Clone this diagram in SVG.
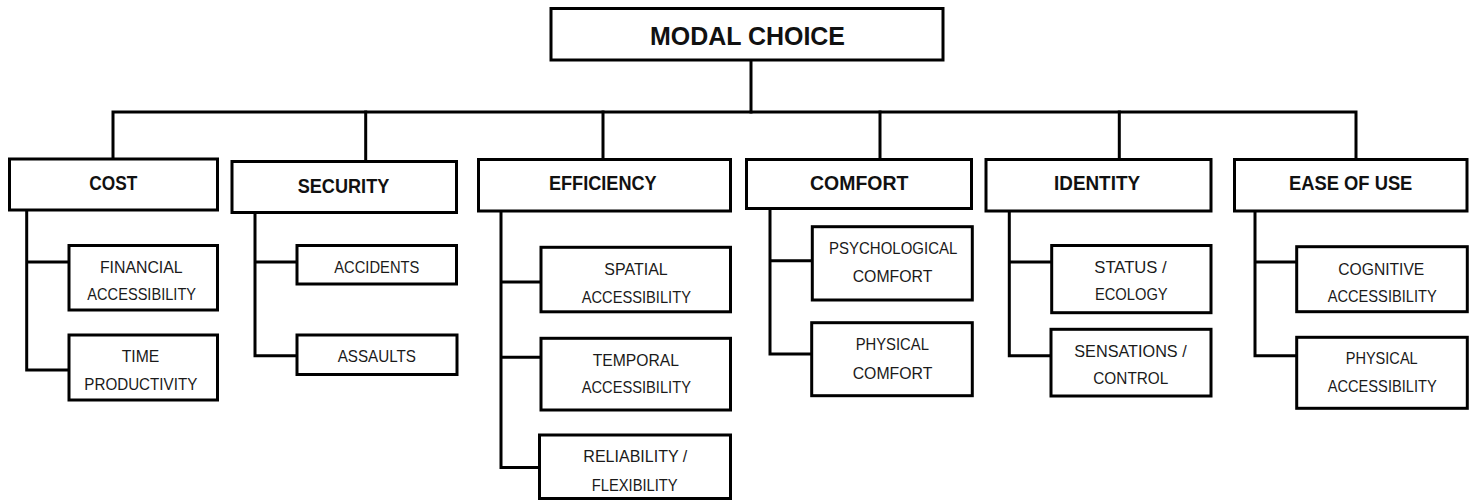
<svg xmlns="http://www.w3.org/2000/svg" width="1474" height="500" viewBox="0 0 1474 500">
<style>
.box{fill:#fff;stroke:#000;stroke-width:3}
.conn{fill:none;stroke:#000;stroke-width:3;stroke-linejoin:miter;stroke-linecap:square}
.h{font-family:"Liberation Sans",Arial,sans-serif;font-weight:bold;font-size:21px;fill:#111;text-anchor:middle}
.root{font-size:25px}
.s{font-family:"Liberation Sans",Arial,sans-serif;font-size:17px;fill:#1a1a1a;text-anchor:middle}
</style>
<rect width="1474" height="500" fill="#fff"/>
<g id="connectors">
<path class="conn" d="M751 60V112"/>
<path class="conn" d="M113 159V112H1356V159"/>
<path class="conn" d="M365.7 112V161.5M603 112V159.5M880 112V159.5M1119.3 112V159.5"/>
<path class="conn" d="M26.7 210V370H69M26.7 262H69"/>
<path class="conn" d="M255 212.5V355.7H297M255 262H297"/>
<path class="conn" d="M501 211V467.5H539.5M501 282H541M501 357.3H541"/>
<path class="conn" d="M770 208.5V354H811.7M770 260.7H812.3"/>
<path class="conn" d="M1009.3 211V355.7H1051M1009.3 262H1051.7"/>
<path class="conn" d="M1255 211V355.7H1296.7M1255 262H1296.7"/>
</g>
<g id="modal-choice"><rect class="box" x="551" y="8.5" width="392" height="51.5"/><text class="h root" x="747.5" y="45" textLength="195" lengthAdjust="spacingAndGlyphs">MODAL CHOICE</text></g>
<g id="cost"><rect class="box" x="9.5" y="159" width="208" height="51"/><text class="h" x="113.3" y="190" textLength="48" lengthAdjust="spacingAndGlyphs">COST</text></g>
<g id="security"><rect class="box" x="232" y="161.5" width="224.5" height="51"/><text class="h" x="343.5" y="193.3" textLength="91.6" lengthAdjust="spacingAndGlyphs">SECURITY</text></g>
<g id="efficiency"><rect class="box" x="478.5" y="159.5" width="252" height="51.5"/><text class="h" x="602.8" y="190" textLength="107.7" lengthAdjust="spacingAndGlyphs">EFFICIENCY</text></g>
<g id="comfort"><rect class="box" x="746.5" y="159.5" width="225" height="49"/><text class="h" x="859.2" y="190" textLength="98.3" lengthAdjust="spacingAndGlyphs">COMFORT</text></g>
<g id="identity"><rect class="box" x="986" y="159.5" width="225" height="51.5"/><text class="h" x="1097" y="190" textLength="86" lengthAdjust="spacingAndGlyphs">IDENTITY</text></g>
<g id="ease-of-use"><rect class="box" x="1234.5" y="159.5" width="232.5" height="51.5"/><text class="h" x="1350.7" y="190" textLength="123.3" lengthAdjust="spacingAndGlyphs">EASE OF USE</text></g>
<g id="financial-accessibility"><rect class="box" x="69" y="245.5" width="148.5" height="64.5"/><text class="s" x="141.3" y="272.7" textLength="82.7" lengthAdjust="spacingAndGlyphs">FINANCIAL</text><text class="s" x="141.7" y="300" textLength="108.7" lengthAdjust="spacingAndGlyphs">ACCESSIBILITY</text></g>
<g id="time-productivity"><rect class="box" x="69" y="335" width="148.5" height="65"/><text class="s" x="140.5" y="361.7" textLength="37.6" lengthAdjust="spacingAndGlyphs">TIME</text><text class="s" x="140.8" y="390" textLength="113" lengthAdjust="spacingAndGlyphs">PRODUCTIVITY</text></g>
<g id="accidents"><rect class="box" x="297" y="245.5" width="159.5" height="38.5"/><text class="s" x="376.8" y="272.7" textLength="85" lengthAdjust="spacingAndGlyphs">ACCIDENTS</text></g>
<g id="assaults"><rect class="box" x="297" y="335" width="160" height="39.5"/><text class="s" x="376.8" y="361.7" textLength="78.3" lengthAdjust="spacingAndGlyphs">ASSAULTS</text></g>
<g id="spatial-accessibility"><rect class="box" x="541" y="247.3" width="189.5" height="64.5"/><text class="s" x="636" y="275" textLength="63.4" lengthAdjust="spacingAndGlyphs">SPATIAL</text><text class="s" x="636.3" y="302.7" textLength="109.3" lengthAdjust="spacingAndGlyphs">ACCESSIBILITY</text></g>
<g id="temporal-accessibility"><rect class="box" x="541" y="338.3" width="189.5" height="71.7"/><text class="s" x="635.8" y="365.7" textLength="86.3" lengthAdjust="spacingAndGlyphs">TEMPORAL</text><text class="s" x="636.3" y="392.7" textLength="109.3" lengthAdjust="spacingAndGlyphs">ACCESSIBILITY</text></g>
<g id="reliability-flexibility"><rect class="box" x="539.5" y="435" width="191" height="63.5"/><text class="s" x="635.3" y="462.3" textLength="104" lengthAdjust="spacingAndGlyphs">RELIABILITY /</text><text class="s" x="634.7" y="490.7" textLength="86" lengthAdjust="spacingAndGlyphs">FLEXIBILITY</text></g>
<g id="psychological-comfort"><rect class="box" x="812.3" y="226.7" width="160" height="73.3"/><text class="s" x="893.2" y="254" textLength="128.3" lengthAdjust="spacingAndGlyphs">PSYCHOLOGICAL</text><text class="s" x="892.5" y="281.5" textLength="79.6" lengthAdjust="spacingAndGlyphs">COMFORT</text></g>
<g id="physical-comfort"><rect class="box" x="811.7" y="322.7" width="160.6" height="73"/><text class="s" x="892.3" y="350" textLength="73.3" lengthAdjust="spacingAndGlyphs">PHYSICAL</text><text class="s" x="892.5" y="379" textLength="79.6" lengthAdjust="spacingAndGlyphs">COMFORT</text></g>
<g id="status-ecology"><rect class="box" x="1051.7" y="245.5" width="159.3" height="67.2"/><text class="s" x="1130.5" y="272.7" textLength="72.4" lengthAdjust="spacingAndGlyphs">STATUS /</text><text class="s" x="1131.3" y="300" textLength="72.7" lengthAdjust="spacingAndGlyphs">ECOLOGY</text></g>
<g id="sensations-control"><rect class="box" x="1051" y="329.3" width="160" height="66.7"/><text class="s" x="1130.5" y="357.3" textLength="112.4" lengthAdjust="spacingAndGlyphs">SENSATIONS /</text><text class="s" x="1130.8" y="384" textLength="75" lengthAdjust="spacingAndGlyphs">CONTROL</text></g>
<g id="cognitive-accessibility"><rect class="box" x="1296.7" y="246.7" width="170.6" height="65"/><text class="s" x="1381.3" y="275" textLength="86" lengthAdjust="spacingAndGlyphs">COGNITIVE</text><text class="s" x="1382.2" y="301.7" textLength="109" lengthAdjust="spacingAndGlyphs">ACCESSIBILITY</text></g>
<g id="physical-accessibility"><rect class="box" x="1296.7" y="337.3" width="170.6" height="71"/><text class="s" x="1381.7" y="364.3" textLength="72" lengthAdjust="spacingAndGlyphs">PHYSICAL</text><text class="s" x="1382.2" y="391.7" textLength="109" lengthAdjust="spacingAndGlyphs">ACCESSIBILITY</text></g>
</svg>
